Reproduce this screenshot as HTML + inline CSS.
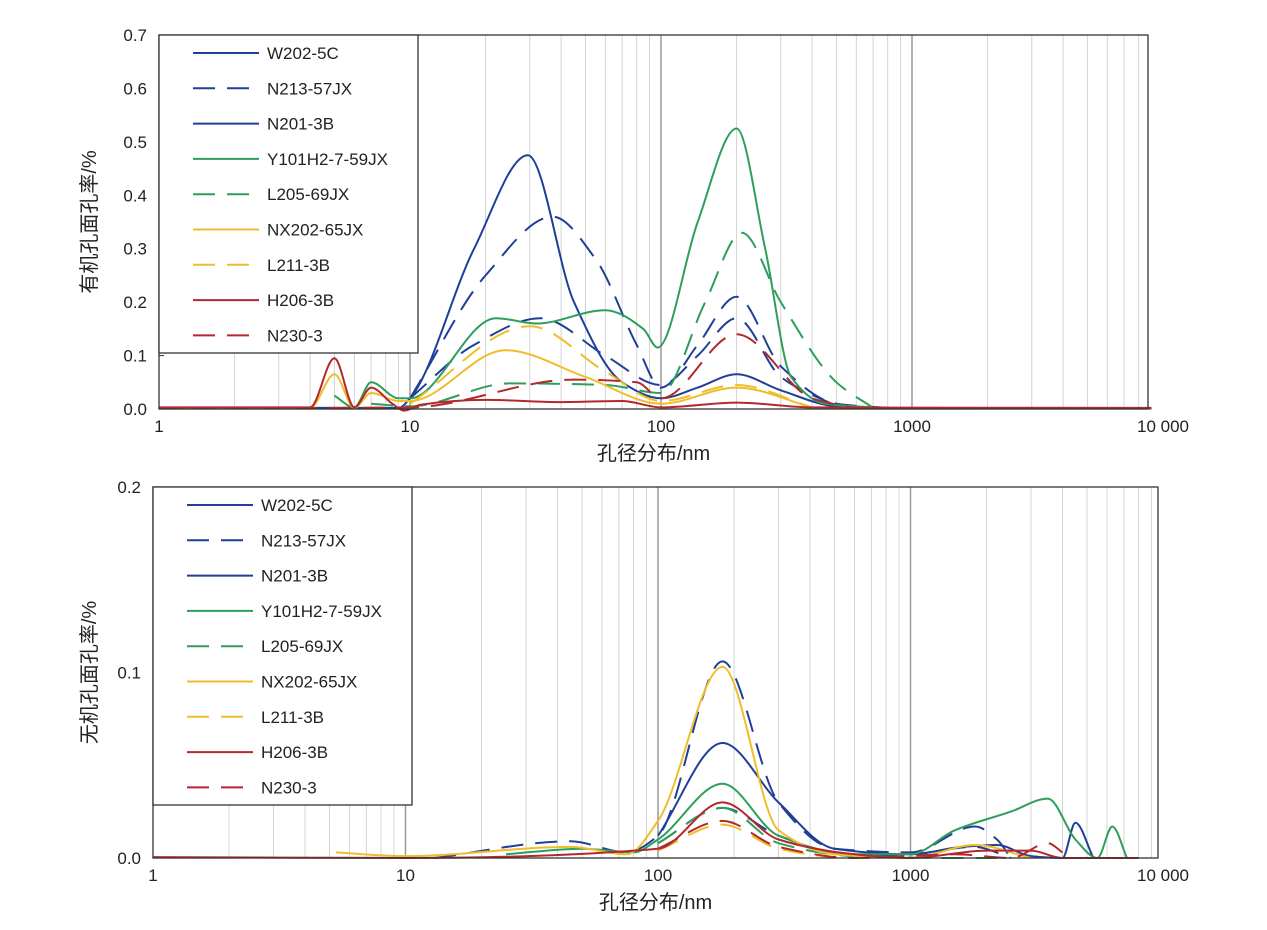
<!DOCTYPE html>
<html><head><meta charset="utf-8">
<style>
html,body{margin:0;padding:0;background:#fff;}
svg{display:block;font-family:"Liberation Sans","Noto Sans CJK SC",sans-serif;}
</style></head>
<body>
<svg id="s" width="1267" height="930" xmlns="http://www.w3.org/2000/svg"></svg>
<script>
const S=document.getElementById('s');let h='';
const C={b:'#1f3f98',g:'#2e9e5b',y:'#f0bd2a',r:'#b3282d'};
function path(pts,col,dash,dx,dy){
  const p=pts.map(([x,y])=>[dx(x),dy(y)]);
  const n=p.length, dl=[], m=[];
  for(let i=0;i<n-1;i++)dl.push((p[i+1][1]-p[i][1])/(p[i+1][0]-p[i][0]));
  for(let i=0;i<n;i++){
    if(i==0)m.push(dl[0]);else if(i==n-1)m.push(dl[n-2]);
    else if(dl[i-1]*dl[i]<=0)m.push(0);
    else{const a=p[i][0]-p[i-1][0],b=p[i+1][0]-p[i][0];m.push(3*(a+b)/((2*b+a)/dl[i-1]+(b+2*a)/dl[i]));}
  }
  let d='M'+p[0][0].toFixed(1)+','+p[0][1].toFixed(1);
  for(let i=0;i<n-1;i++){
    const w=(p[i+1][0]-p[i][0])/3;
    d+=`C${(p[i][0]+w).toFixed(1)},${(p[i][1]+m[i]*w).toFixed(1)} ${(p[i+1][0]-w).toFixed(1)},${(p[i+1][1]-m[i+1]*w).toFixed(1)} ${p[i+1][0].toFixed(1)},${p[i+1][1].toFixed(1)}`;
  }
  return `<path d="${d}" fill="none" stroke="${col}" stroke-width="2" ${dash?'stroke-dasharray="'+dash+'"':''}/>`;
}
function panel(x0,D,xr,yT,yB,ymax,yt,ylabel,series){
  const dx=x=>x0+D*Math.log10(x), dy=y=>yB-(yB-yT)*y/ymax;
  for(let e=0;e<4;e++)for(let m=1;m<10;m++){
    const px=x0+D*(e+Math.log10(m));
    if(px<=x0+1||px>=xr)continue;
    h+=`<line x1="${px}" y1="${yT}" x2="${px}" y2="${yB}" stroke="${m==1?'#9a9a9a':'#d4d4d4'}" stroke-width="${m==1?1.5:1}"/>`;
  }
  series.forEach(s=>h+=path(s[0],s[1],s[2],dx,dy));
  h+=`<rect x="${x0}" y="${yT}" width="${xr-x0}" height="${yB-yT}" fill="none" stroke="#333" stroke-width="1.3"/>`;
  yt.forEach(v=>{const py=dy(v);h+=`<line x1="${x0}" y1="${py}" x2="${x0+5}" y2="${py}" stroke="#333"/><text x="${x0-12}" y="${py+6}" font-size="17" text-anchor="end" fill="#222">${v.toFixed(1)}</text>`;});
  ['1','10','100','1000','10 000'].forEach((t,i)=>{h+=`<text x="${x0+D*i}" y="${yB+23}" font-size="17" text-anchor="middle" fill="#222">${t}</text>`;});
  h+=`<text x="${(x0+xr)/2}" y="${yB+51}" font-size="20" text-anchor="middle" fill="#222">孔径分布/nm</text>`;
  const cy=(yT+yB)/2;
  h+=`<text transform="translate(96,${cy}) rotate(-90)" font-size="20" text-anchor="middle" fill="#222">${ylabel}</text>`;
  h+=`<rect x="${x0}" y="${yT}" width="259" height="318" fill="#fff" stroke="#333" stroke-width="1.3"/>`;
  const names=['W202-5C','N213-57JX','N201-3B','Y101H2-7-59JX','L205-69JX','NX202-65JX','L211-3B','H206-3B','N230-3'];
  const st=[[C.b,''],[C.b,'22,12'],[C.b,''],[C.g,''],[C.g,'22,12'],[C.y,''],[C.y,'22,12'],[C.r,''],[C.r,'22,12']];
  names.forEach((n,i)=>{const y=yT+18+i*35.3;
    h+=`<line x1="${x0+34}" y1="${y}" x2="${x0+100}" y2="${y}" stroke="${st[i][0]}" stroke-width="2" ${st[i][1]?'stroke-dasharray="'+st[i][1]+'"':''}/>`;
    h+=`<text x="${x0+108}" y="${y+6}" font-size="17" fill="#222">${n}</text>`;});
}
const T=[
 [[[1,0.002],[4,0.002],[9,0.002],[10,0.02],[18,0.3],[29.5,0.475],[45,0.2],[70,0.05],[100,0.02],[140,0.04],[200,0.065],[300,0.035],[500,0.005],[1000,0.001],[9000,0.001]],C.b,''],
 [[[10,0.02],[20,0.25],[37,0.36],[55,0.28],[80,0.12],[100,0.04],[140,0.12],[200,0.21],[300,0.08],[500,0.01],[800,0.002]],C.b,'22,12'],
 [[[10,0.02],[18,0.12],[33,0.17],[60,0.1],[100,0.045],[140,0.1],[200,0.17],[300,0.06],[500,0.005]],C.b,'22,12'],
 [[[5,0.025],[6,0.003],[7,0.05],[9,0.02],[10,0.02],[22,0.17],[32,0.16],[60,0.185],[85,0.15],[97,0.115],[140,0.35],[200,0.525],[260,0.3],[330,0.06],[450,0.01],[700,0.003]],C.g,''],
 [[[7,0.01],[10,0.005],[25,0.048],[60,0.045],[100,0.03],[150,0.2],[210,0.33],[300,0.2],[500,0.05],[700,0.002]],C.g,'22,12'],
 [[[1,0.001],[4,0.002],[5,0.065],[6,0.002],[7,0.03],[9,0.015],[10,0.015],[24,0.11],[50,0.06],[100,0.01],[200,0.04],[400,0.003]],C.y,''],
 [[[10,0.01],[30,0.155],[60,0.07],[100,0.015],[200,0.045],[400,0.003]],C.y,'22,12'],
 [[[1,0.003],[4,0.003],[5,0.095],[6,0.003],[7,0.04],[8.5,0.01],[9.5,-0.003],[11,0.008],[20,0.017],[40,0.013],[70,0.015],[100,0.003],[200,0.012],[400,0.003],[9000,0.002]],C.r,''],
 [[[1,0.001],[10,0.003],[45,0.055],[80,0.05],[100,0.02],[200,0.14],[400,0.02],[600,0.001]],C.r,'22,12']
];
panel(159,251,1148,35,409,0.7,[0,0.1,0.2,0.3,0.4,0.5,0.6,0.7],'有机孔面孔率/%',T);
const B=[
 [[[13,0],[45,0.009],[75,0.003],[100,0.012],[180,0.106],[300,0.03],[500,0.005],[1000,0.003],[1800,0.017],[2200,0.01],[2500,0]],C.b,'22,12'],
 [[[100,0.012],[180,0.062],[300,0.03],[500,0.005],[1000,0.002],[1600,0.006],[2200,0.007],[3000,0.001],[4000,0],[4500,0.019],[5300,0]],C.b,''],
 [[[100,0.008],[180,0.027],[300,0.012],[600,0.001],[1000,0.002],[1800,0.006],[2500,0]],C.b,'22,12'],
 [[[25,0.002],[50,0.005],[80,0.003],[100,0.01],[180,0.04],[300,0.012],[600,0.002],[1000,0.002],[1500,0.015],[2500,0.025],[3500,0.032],[4500,0.01],[5500,0],[6300,0.017],[7200,0]],C.g,''],
 [[[100,0.008],[180,0.027],[300,0.008],[600,0.001],[1500,0],[2200,0]],C.g,'22,12'],
 [[[5.3,0.003],[10,0.001],[45,0.006],[75,0.002],[100,0.02],[180,0.103],[300,0.015],[500,0.002],[1000,0],[1800,0.007],[3000,0]],C.y,''],
 [[[100,0.004],[180,0.018],[300,0.005],[500,0]],C.y,'22,12'],
 [[[1,0.0005],[10,0],[100,0.005],[180,0.03],[300,0.01],[600,0.002],[1000,0],[2000,0.004],[3000,0.004],[4000,0],[8000,0]],C.r,''],
 [[[100,0.005],[180,0.02],[300,0.006],[600,0],[1500,0.002],[2500,0],[3500,0.008],[4000,0.003]],C.r,'22,12']
];
panel(153,252.5,1158,487,858,0.2,[0,0.1,0.2],'无机孔面孔率/%',B);
S.innerHTML=h;
</script>
</body></html>
